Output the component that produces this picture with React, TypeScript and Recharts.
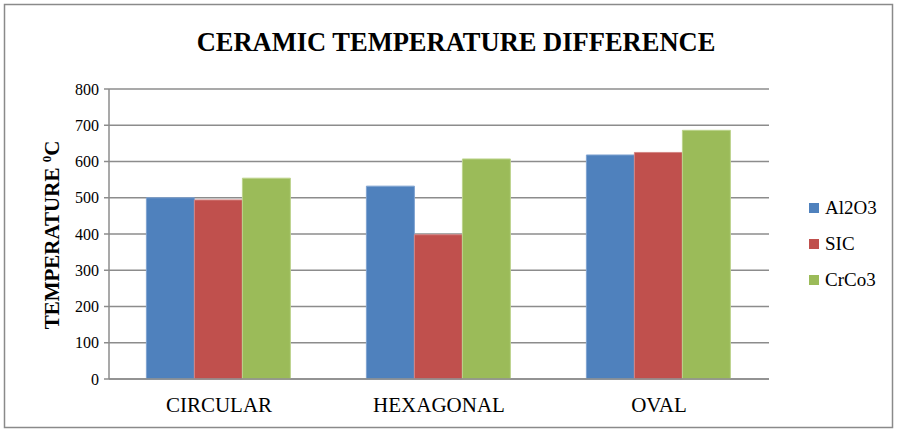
import { BarChart, Bar, XAxis, YAxis, CartesianGrid } from "recharts";

const categories = ["CIRCULAR", "HEXAGONAL", "OVAL"];
const al2o3 = [500, 532, 618];
const sic = [494, 398, 625];
const crco3 = [554, 607, 686];
const yTicks = [0, 100, 200, 300, 400, 500, 600, 700, 800];

const SERIES = [
  { key: "Al2O3", values: al2o3, color: "#4F81BD", edge: "#7fa3d1" },
  { key: "SIC", values: sic, color: "#C0504D", edge: "#d48583" },
  { key: "CrCo3", values: crco3, color: "#9BBB59", edge: "#bcd38c" },
];

const data = categories.map((name, i) => {
  const row: Record<string, string | number> = { name };
  SERIES.forEach(s => (row[s.key] = s.values[i]));
  return row;
});

const FONT = "Liberation Serif, Tinos, DejaVu Serif, serif";
const GRID = "#8c8c8c";

export default function App() {
  return (
    <div style={{ position: "absolute", left: 0, top: 0, width: 897, height: 432, background: "#fff", fontFamily: FONT }}>
      <BarChart
        width={897}
        height={432}
        data={data}
        margin={{ top: 89, right: 128, bottom: 18, left: 49 }}
        barCategoryGap="17%"
        barGap={0}
        style={{ fontFamily: FONT }}
      >
        <CartesianGrid vertical={false} stroke={GRID} strokeWidth={1.5} />
        <XAxis
          dataKey="name"
          height={35}
          stroke={GRID}
          strokeWidth={1.5}
          tickLine={false}
          tickMargin={12}
          tick={{ fontSize: 21, fill: "#000", fontFamily: FONT }}
        />
        <YAxis
          width={60}
          domain={[0, 800]}
          ticks={yTicks}
          interval={0}
          stroke={GRID}
          strokeWidth={1.5}
          tickSize={5}
          tickMargin={5}
          tick={{ fontSize: 16, fill: "#000", fontFamily: FONT }}
        />
        {SERIES.map(s => (
          <Bar key={s.key} dataKey={s.key} fill={s.color} stroke={s.edge} strokeWidth={1} isAnimationActive={false} />
        ))}
      </BarChart>

      <svg width={897} height={432} style={{ position: "absolute", left: 0, top: 0, pointerEvents: "none", fontFamily: FONT }}>
        <rect x={4.5} y={4.5} width={888} height={423} fill="none" stroke="#8a8a8a" strokeWidth={1.5} />
        <text x={456} y={51} textAnchor="middle" fontWeight="bold" fontSize={26.5} fill="#000">
          CERAMIC TEMPERATURE DIFFERENCE
        </text>
        <text
          transform="translate(59,235) rotate(-90)"
          textAnchor="middle"
          fontWeight="bold"
          fontSize={21}
          fill="#000"
        >
          TEMPERATURE <tspan dy={-8} fontSize={13}>0</tspan>
          <tspan dy={8}>C</tspan>
        </text>
      </svg>

      <div style={{ position: "absolute", left: 809, top: 190 }}>
        {SERIES.map(s => (
          <div key={s.key} style={{ display: "flex", alignItems: "center", height: 36, fontSize: 19, color: "#000" }}>
            <span style={{ width: 10, height: 10, background: s.color, marginRight: 6, display: "inline-block" }} />
            {s.key}
          </div>
        ))}
      </div>
    </div>
  );
}
